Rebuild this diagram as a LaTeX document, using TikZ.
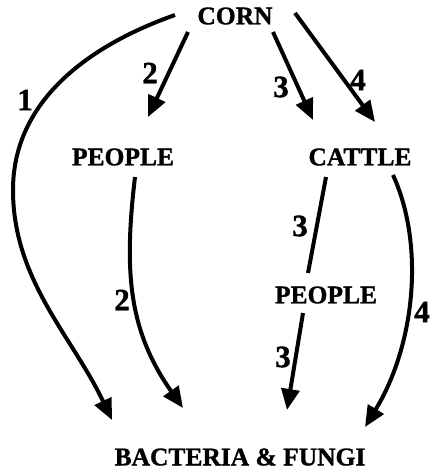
\documentclass[tikz,border=0pt]{standalone}
\usepackage{fontspec}
\setmainfont{Liberation Serif}[BoldFeatures={FakeBold=1.2}]
\usetikzlibrary{arrows.meta, calc}
\tikzset{
    txt/.style={inner sep=0pt, font=\fontsize{25.5}{28}\selectfont\bfseries},
    num/.style={inner sep=0pt, font=\fontsize{31}{33}\selectfont\bfseries},
    flow/.style={line width=4pt, -{Triangle[length=21pt,width=18pt]}},
    bare/.style={line width=4pt}
}
\begin{document}
\begin{tikzpicture}[x=1pt, y=-1pt]
    \useasboundingbox (0,0) rectangle (434,471);
    \node (corn) [txt] at (235,16) {CORN};
    \node (people) [txt] at (123,157) {PEOPLE};
    \node (cattle) [txt] at (360,157) {CATTLE};
    \node (people2) [txt] at (326,295) {PEOPLE};
    \node (bf) [txt] at (240,457) {BACTERIA \& FUNGI};

    % corn goes four ways
    \draw [flow] ($(corn)+(-60,-1)$) .. controls (90,45) and (13,100) .. (13,190)
        .. controls (13,280) and (72,336) .. ($(bf)+(-128,-37)$);
    \draw [flow] ($(corn)+(-47,16)$) -- ($(people)+(25,-40)$);
    \draw [flow] ($(corn)+(38,16)$) -- ($(cattle)+(-47,-37)$);
    \draw [flow] ($(corn)+(60,-3)$) -- ($(cattle)+(15,-35)$);

    % down to the decomposers
    \draw [flow] ($(people)+(12,20)$) .. controls (124,270) and (128,330) .. ($(bf)+(-57,-49)$);
    \draw [bare] ($(cattle)+(-34,20)$) -- ($(people2)+(-18,-22)$);
    \draw [flow] ($(people2)+(-23,18)$) -- ($(bf)+(47,-47)$);
    \draw [flow] ($(cattle)+(33,18)$) .. controls (425,245) and (415,345) .. ($(bf)+(125,-30)$);

    % path numbers
    \node (n1) [num] at (25,100) {1};
    \node (n2a) [num] at (150,73) {2};
    \node (n3a) [num] at (281,87) {3};
    \node (n4a) [num] at (358,80) {4};
    \node (n2b) [num] at (122,300) {2};
    \node (n3b) [num] at (300,226) {3};
    \node (n3c) [num] at (283,357) {3};
    \node (n4b) [num] at (422,312) {4};
\end{tikzpicture}
\end{document}
